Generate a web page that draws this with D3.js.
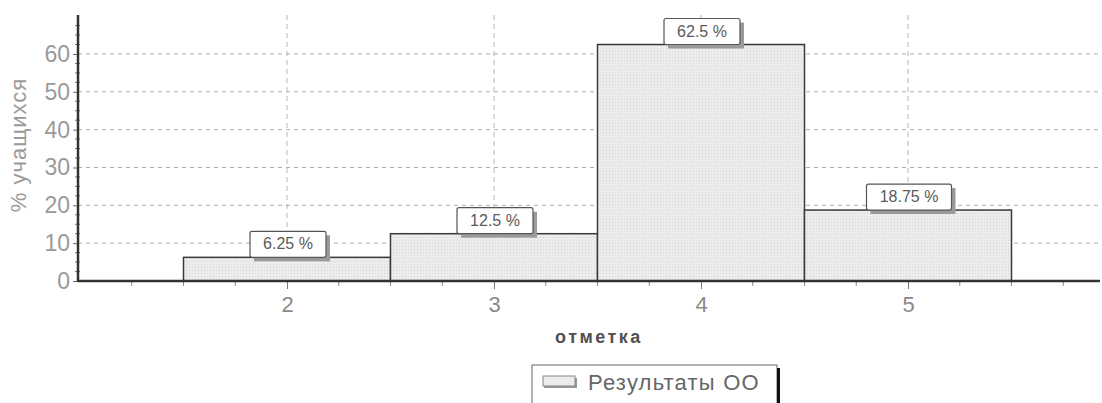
<!DOCTYPE html>
<html>
<head>
<meta charset="utf-8">
<script src="https://d3js.org/d3.v7.min.js"></script>
<style>
  body { margin: 0; background: #fff; }
  svg { display: block; font-family: 'Liberation Sans', Arial, sans-serif; }
</style>
</head>
<body>
<svg id="canvas" width="1102" height="403"></svg>
<script>
let categories = [2, 3, 4, 5]
let values = [6.25, 12.5, 62.5, 18.75]
let valueLabels = ['6.25 %', '12.5 %', '62.5 %', '18.75 %']
let yTicks = [0, 10, 20, 30, 40, 50, 60]
let legendLabel = 'Результаты ОО'
let xTitle = 'отметка'
let yTitle = '% учащихся'

let canvas = d3.select('#canvas')

let x = d3.scaleLinear().domain([1, 6]).range([80, 1115])
let y = d3.scaleLinear().domain([0, 70.3]).range([281, 15])
let left = 78, right = 1100

// dotted texture for the bars
let defs = canvas.append('defs')
let pat = defs.append('pattern').attr('id', 'dots').attr('width', 3).attr('height', 3)
  .attr('patternUnits', 'userSpaceOnUse')
pat.append('rect').attr('width', 3).attr('height', 3).attr('fill', '#ececec')
pat.append('rect').attr('width', 1).attr('height', 1).attr('fill', '#d6d6d6')

// grid
canvas.selectAll('.hgrid')
  .data(yTicks.filter(d => d > 0))
  .enter()
  .append('line')
  .attr('x1', left).attr('x2', right)
  .attr('y1', d => y(d)).attr('y2', d => y(d))
  .attr('stroke', '#adadad')
  .attr('stroke-dasharray', '4,4')

canvas.selectAll('.vgrid')
  .data(categories)
  .enter()
  .append('line')
  .attr('x1', d => x(d)).attr('x2', d => x(d))
  .attr('y1', y(70.3)).attr('y2', y(0))
  .attr('stroke', '#b5b5b5')
  .attr('stroke-dasharray', '5,4')

// bars
canvas.selectAll('.bar')
  .data(categories)
  .enter()
  .append('rect')
  .attr('x', d => x(d - 0.5))
  .attr('width', d => x(d + 0.5) - x(d - 0.5))
  .attr('y', (d, i) => y(values[i]))
  .attr('height', (d, i) => y(0) - y(values[i]))
  .attr('fill', 'url(#dots)')
  .attr('stroke', '#3a3a3a')
  .attr('stroke-width', 1.5)

// y axis
let yAxis = d3.axisLeft(y).tickValues(yTicks).tickSize(5).tickFormat(d3.format('d'))
let gy = canvas.append('g').attr('transform', `translate(${left},0)`).call(yAxis)
gy.select('.domain').remove()
gy.selectAll('.tick line').attr('stroke', '#666')
gy.selectAll('.tick text')
  .attr('x', -8)
  .attr('font-size', 23)
  .attr('fill', '#9a9a9a')
  .style('font-family', "'Liberation Sans', Arial, sans-serif")

let yMinor = d3.range(0, 70.1, 2.5).filter(d => d % 10 !== 0)
canvas.selectAll('.yminor')
  .data(yMinor)
  .enter()
  .append('line')
  .attr('x1', left - 3).attr('x2', left + 2)
  .attr('y1', d => y(d)).attr('y2', d => y(d))
  .attr('stroke', '#777')

canvas.append('line')
  .attr('x1', left).attr('x2', left)
  .attr('y1', y(70.3)).attr('y2', y(0) + 1)
  .attr('stroke', '#333').attr('stroke-width', 2.5)

// x axis
let xAxis = d3.axisBottom(x).tickValues(categories).tickSize(8).tickFormat(d3.format('d'))
let gx = canvas.append('g').attr('transform', `translate(0,${y(0)})`).call(xAxis)
gx.select('.domain').remove()
gx.selectAll('.tick line').attr('stroke', '#777')
gx.selectAll('.tick text')
  .attr('y', 15)
  .attr('font-size', 22)
  .attr('fill', '#8a8a8a')
  .style('font-family', "'Liberation Sans', Arial, sans-serif")

let xMinor = d3.range(1.25, 5.9, 0.25).filter(d => d % 1 !== 0)
canvas.selectAll('.xminor')
  .data(xMinor)
  .enter()
  .append('line')
  .attr('x1', d => x(d)).attr('x2', d => x(d))
  .attr('y1', y(0)).attr('y2', y(0) + 5)
  .attr('stroke', '#888')

canvas.append('line')
  .attr('x1', left).attr('x2', right)
  .attr('y1', y(0)).attr('y2', y(0))
  .attr('stroke', '#333').attr('stroke-width', 2.5)

// value labels
let lab = canvas.selectAll('.lab')
  .data(categories)
  .enter()
  .append('g')
  .attr('transform', (d, i) => `translate(${x(d) + 1},${y(values[i])})`)

lab.each(function (d, i) {
  let g = d3.select(this)
  let w = valueLabels[i].length * 9 + 22
  g.append('rect')
    .attr('x', -w / 2 + 4).attr('y', -26 + 4)
    .attr('width', w).attr('height', 26)
    .attr('fill', '#9a9a9a')
  g.append('rect')
    .attr('x', -w / 2).attr('y', -26)
    .attr('width', w).attr('height', 26)
    .attr('rx', 2)
    .attr('fill', '#fff')
    .attr('stroke', '#555')
    .attr('stroke-width', 1.2)
  g.append('text')
    .attr('x', 0).attr('y', -8)
    .attr('text-anchor', 'middle')
    .attr('font-size', 16)
    .attr('fill', '#5a5a5a')
    .text(valueLabels[i])
})

// titles
canvas.append('text')
  .attr('transform', 'translate(26,145) rotate(-90)')
  .attr('text-anchor', 'middle')
  .attr('font-size', 22)
  .attr('letter-spacing', 1)
  .attr('fill', '#9a9a9a')
  .text(yTitle)

canvas.append('text')
  .attr('x', 599).attr('y', 343)
  .attr('text-anchor', 'middle')
  .attr('font-size', 18)
  .attr('font-weight', 'bold')
  .attr('letter-spacing', 2.5)
  .attr('fill', '#505050')
  .text(xTitle)

// legend
canvas.append('rect')
  .attr('x', 532).attr('y', 365)
  .attr('width', 245).attr('height', 50)
  .attr('fill', '#fff')
  .attr('stroke', '#666')
canvas.append('rect')
  .attr('x', 777).attr('y', 368)
  .attr('width', 3).attr('height', 40)
  .attr('fill', '#111')
canvas.append('rect')
  .attr('x', 544).attr('y', 378)
  .attr('width', 33).attr('height', 10)
  .attr('fill', '#999')
canvas.append('rect')
  .attr('x', 543).attr('y', 376)
  .attr('width', 32).attr('height', 10)
  .attr('fill', '#ececec')
  .attr('stroke', '#888')
canvas.append('text')
  .attr('x', 588).attr('y', 390)
  .attr('font-size', 22)
  .attr('letter-spacing', 1.2)
  .attr('fill', '#666')
  .text(legendLabel)
</script>
</body>
</html>
